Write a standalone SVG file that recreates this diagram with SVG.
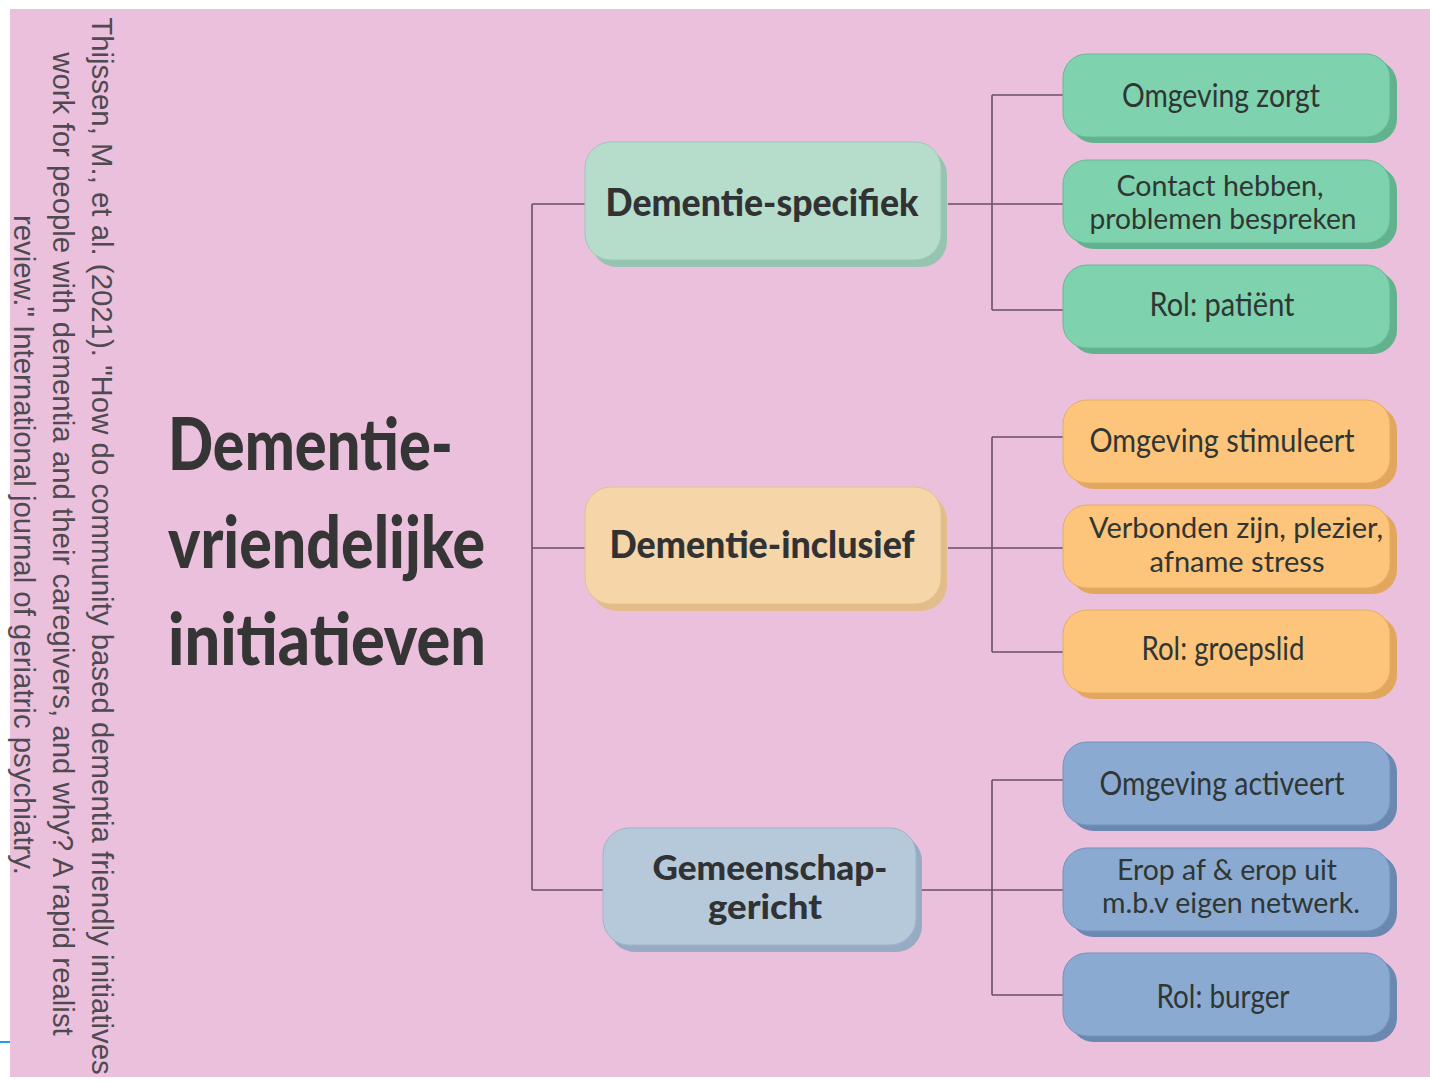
<svg xmlns="http://www.w3.org/2000/svg" width="1430" height="1081" viewBox="0 0 1430 1081">
<style>
.cite{font-family:"Liberation Sans",Arial,sans-serif;font-size:29.4px;fill:#4f4a50;text-anchor:middle}
.title{font-family:Lato,"Noto Sans",sans-serif;font-weight:900;font-size:72px;fill:#363535}
.mid{font-family:Lato,"Noto Sans",sans-serif;font-weight:900;font-size:38px;fill:#313234;text-anchor:middle}
.mid2{font-size:35px}
.lbl{font-family:Lato,"Noto Sans",sans-serif;font-size:32px;fill:#2f3633;text-anchor:middle}
.lbl2{font-size:29px}
.conn{fill:none;stroke:#6a4f68;stroke-width:1.6}
.gm{fill:#b6ddcc;stroke:#9cc8b5;stroke-width:1}
.gms{fill:#96c4b0}
.g{fill:#7ed2ad;stroke:#66b894;stroke-width:1}
.gs{fill:#62b28e}
.om{fill:#f6d5a8;stroke:#e2c090;stroke-width:1}
.oms{fill:#e2bd8b}
.o{fill:#fdc47b;stroke:#e6ac62;stroke-width:1}
.os{fill:#e2a75f}
.bm{fill:#b6c9db;stroke:#9fb3c9;stroke-width:1}
.bms{fill:#97abc4}
.b{fill:#8aaad2;stroke:#7393bd;stroke-width:1}
.bs{fill:#6a88b0}
</style>
<rect x="10" y="9" width="1420" height="1068" fill="#ebc0dc"/>
<line x1="0" y1="1042" x2="10" y2="1042" stroke="#1e9fe0" stroke-width="2"/>
<g id="citation">
<text class="cite" transform="translate(92,546) rotate(90)">Thijssen, M., et al. (2021). "How do community based dementia friendly initiatives</text>
<text class="cite" transform="translate(53,544) rotate(90)">work for people with dementia and their caregivers, and why? A rapid realist</text>
<text class="cite" transform="translate(14,545) rotate(90)">review." International journal of geriatric psychiatry.</text>
</g>
<g id="title">
<text class="title" x="168" y="470" textLength="285" lengthAdjust="spacingAndGlyphs">Dementie-</text>
<text class="title" x="168" y="568" textLength="317" lengthAdjust="spacingAndGlyphs">vriendelijke</text>
<text class="title" x="168" y="665" textLength="318" lengthAdjust="spacingAndGlyphs">initiatieven</text>
</g>
<g id="connectors">
<path class="conn" d="M532,204 V890 M532,204 H585 M532,548 H585 M532,890 H603"/>
<path class="conn" d="M948,204 H1063 M992,95 V310 M992,95 H1063 M992,310 H1063"/>
<path class="conn" d="M948,548 H1063 M992,437 V652 M992,437 H1063 M992,652 H1063"/>
<path class="conn" d="M922,890 H1063 M992,780 V995 M992,780 H1063 M992,995 H1063"/>
</g>
<g id="dementie-specifiek">
<rect class="gms" x="591" y="149" width="356" height="118" rx="26"/>
<rect class="gm" x="585" y="142" width="356" height="118" rx="26"/>
<text class="mid" x="762" y="216" textLength="313" lengthAdjust="spacingAndGlyphs">Dementie-specifiek</text>
</g>
<g id="dementie-inclusief">
<rect class="oms" x="591" y="494" width="356" height="117" rx="26"/>
<rect class="om" x="585" y="487" width="356" height="117" rx="26"/>
<text class="mid" x="762" y="558" textLength="305" lengthAdjust="spacingAndGlyphs">Dementie-inclusief</text>
</g>
<g id="gemeenschap-gericht">
<rect class="bms" x="609" y="835" width="313" height="117" rx="26"/>
<rect class="bm" x="603" y="828" width="313" height="117" rx="26"/>
<text class="mid mid2" x="770" y="880" textLength="235" lengthAdjust="spacingAndGlyphs">Gemeenschap-</text>
<text class="mid mid2" x="765" y="919" textLength="114" lengthAdjust="spacingAndGlyphs">gericht</text>
</g>
<g id="omgeving-zorgt">
<rect class="gs" x="1070" y="60" width="327" height="83" rx="24"/>
<rect class="g" x="1063" y="54" width="327" height="83" rx="24"/>
<text class="lbl" x="1221" y="107" textLength="198" lengthAdjust="spacingAndGlyphs">Omgeving zorgt</text>
</g>
<g id="contact-hebben">
<rect class="gs" x="1070" y="166" width="327" height="83" rx="24"/>
<rect class="g" x="1063" y="160" width="327" height="83" rx="24"/>
<text class="lbl lbl2" x="1220" y="196" textLength="207" lengthAdjust="spacingAndGlyphs">Contact hebben,</text>
<text class="lbl lbl2" x="1223" y="229" textLength="267" lengthAdjust="spacingAndGlyphs">problemen bespreken</text>
</g>
<g id="rol-patient">
<rect class="gs" x="1070" y="271" width="327" height="83" rx="24"/>
<rect class="g" x="1063" y="265" width="327" height="83" rx="24"/>
<text class="lbl" x="1222" y="316" textLength="145" lengthAdjust="spacingAndGlyphs">Rol: patiënt</text>
</g>
<g id="omgeving-stimuleert">
<rect class="os" x="1070" y="406" width="327" height="83" rx="24"/>
<rect class="o" x="1063" y="400" width="327" height="83" rx="24"/>
<text class="lbl" x="1222" y="452" textLength="265" lengthAdjust="spacingAndGlyphs">Omgeving stimuleert</text>
</g>
<g id="verbonden-zijn">
<rect class="os" x="1070" y="511" width="327" height="83" rx="24"/>
<rect class="o" x="1063" y="505" width="327" height="83" rx="24"/>
<text class="lbl lbl2" x="1236" y="538" textLength="294" lengthAdjust="spacingAndGlyphs">Verbonden zijn, plezier,</text>
<text class="lbl lbl2" x="1237" y="572" textLength="175" lengthAdjust="spacingAndGlyphs">afname stress</text>
</g>
<g id="rol-groepslid">
<rect class="os" x="1070" y="616" width="327" height="83" rx="24"/>
<rect class="o" x="1063" y="610" width="327" height="83" rx="24"/>
<text class="lbl" x="1223" y="660" textLength="163" lengthAdjust="spacingAndGlyphs">Rol: groepslid</text>
</g>
<g id="omgeving-activeert">
<rect class="bs" x="1070" y="748" width="327" height="83" rx="24"/>
<rect class="b" x="1063" y="742" width="327" height="83" rx="24"/>
<text class="lbl" x="1222" y="795" textLength="245" lengthAdjust="spacingAndGlyphs">Omgeving activeert</text>
</g>
<g id="erop-af">
<rect class="bs" x="1070" y="854" width="327" height="83" rx="24"/>
<rect class="b" x="1063" y="848" width="327" height="83" rx="24"/>
<text class="lbl lbl2" x="1227" y="880" textLength="220" lengthAdjust="spacingAndGlyphs">Erop af &amp; erop uit</text>
<text class="lbl lbl2" x="1231" y="913" textLength="258" lengthAdjust="spacingAndGlyphs">m.b.v eigen netwerk.</text>
</g>
<g id="rol-burger">
<rect class="bs" x="1070" y="959" width="327" height="83" rx="24"/>
<rect class="b" x="1063" y="953" width="327" height="83" rx="24"/>
<text class="lbl" x="1223" y="1008" textLength="133" lengthAdjust="spacingAndGlyphs">Rol: burger</text>
</g>
</svg>
